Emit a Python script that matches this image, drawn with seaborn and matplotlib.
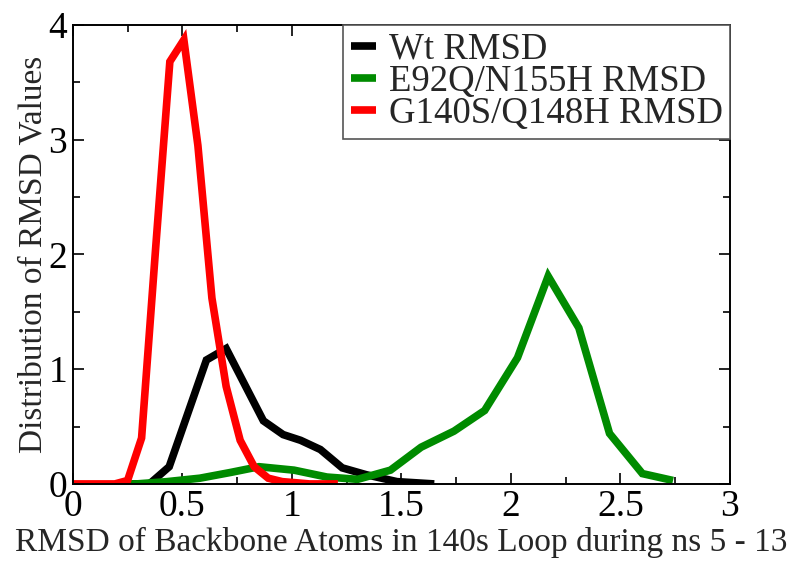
import numpy as np
import pandas as pd
import matplotlib
matplotlib.use("Agg")
import matplotlib.pyplot as plt
import seaborn as sns
from matplotlib.ticker import MultipleLocator

# --- data ---
wt_x = [0.26, 0.35, 0.44, 0.61, 0.70, 0.87, 0.96, 1.04, 1.13, 1.23, 1.34, 1.48, 1.65]
wt_y = [0.0, 0.0, 0.15, 1.08, 1.18, 0.55, 0.43, 0.38, 0.30, 0.14, 0.08, 0.02, 0.0]

e92_x = [0.25, 0.29, 0.43, 0.58, 0.72, 0.85, 1.01, 1.16, 1.30, 1.45, 1.59, 1.74, 1.88,
         2.03, 2.17, 2.31, 2.45, 2.60, 2.74]
e92_y = [0.0, 0.0, 0.02, 0.05, 0.10, 0.15, 0.12, 0.06, 0.04, 0.12, 0.32, 0.46, 0.64,
         1.10, 1.81, 1.36, 0.44, 0.09, 0.03]

g140_x = [0.0, 0.064, 0.128, 0.192, 0.25, 0.314, 0.378, 0.443, 0.507, 0.571, 0.635,
          0.70, 0.764, 0.828, 0.892, 0.956, 1.02, 1.08, 1.15, 1.21]
g140_y = [0.0, 0.0, 0.0, 0.0, 0.03, 0.40, 2.05, 3.68, 3.87, 2.95, 1.62, 0.85, 0.38,
          0.15, 0.05, 0.02, 0.01, 0.0, 0.0, 0.0]

labels = ["Wt RMSD", "E92Q/N155H RMSD", "G140S/Q148H RMSD"]
colors = ["#000000", "#008b00", "#ff0000"]

df = pd.concat([
    pd.DataFrame({"x": wt_x, "y": wt_y, "series": labels[0]}),
    pd.DataFrame({"x": e92_x, "y": e92_y, "series": labels[1]}),
    pd.DataFrame({"x": g140_x, "y": g140_y, "series": labels[2]}),
], ignore_index=True)

sns.set_style("ticks")
plt.rcParams["font.family"] = ["Liberation Serif", "DejaVu Serif"]

fig = plt.figure(figsize=(8, 5.66), dpi=100)
ax = fig.add_axes([0.091, 0.145, 0.8215, 0.811])

sns.lineplot(data=df, x="x", y="y", hue="series", hue_order=labels,
             palette=dict(zip(labels, colors)), sort=False, estimator=None,
             linewidth=5.5, ax=ax, legend=True)
for ln in ax.lines:
    ln.set_solid_capstyle("butt")
    ln.set_solid_joinstyle("miter")

ax.set_xlim(0, 3)
ax.set_ylim(0, 4)
ax.xaxis.set_major_locator(MultipleLocator(0.5))
ax.xaxis.set_minor_locator(MultipleLocator(0.25))
ax.yaxis.set_major_locator(MultipleLocator(1))
ax.yaxis.set_minor_locator(MultipleLocator(0.5))
ax.set_xticks([0, 0.5, 1, 1.5, 2, 2.5, 3])
ax.set_xticklabels(["0", "0.5", "1", "1.5", "2", "2.5", "3"])
ax.set_yticks([0, 1, 2, 3, 4])
ax.set_yticklabels(["0", "1", "2", "3", "4"])
ax.tick_params(which="both", direction="in", top=True, right=True, width=1.2,
               labelsize=27, colors="black", pad=4)
ax.tick_params(which="major", length=8)
ax.tick_params(which="minor", length=5)
for s in ax.spines.values():
    s.set_visible(True)
    s.set_linewidth(1.4)
    s.set_color("black")

ax.set_xlabel("RMSD of Backbone Atoms in 140s Loop during ns 5 - 13", fontsize=24, labelpad=2)
ax.set_ylabel("Distribution of RMSD Values", fontsize=24, labelpad=0)

leg = ax.legend(loc="upper right", fontsize=26.5, frameon=True, fancybox=False,
                borderaxespad=0, handlelength=0.7, handletextpad=0.33,
                labelspacing=-0.06, borderpad=0.2, title=None)
leg.get_frame().set_edgecolor("#555555")
leg.get_frame().set_linewidth(1.2)
leg.get_frame().set_alpha(1)
for h in leg.get_lines():
    h.set_linewidth(5.5)
    h.set_solid_capstyle("butt")

fig.savefig("out.png", dpi=100)
